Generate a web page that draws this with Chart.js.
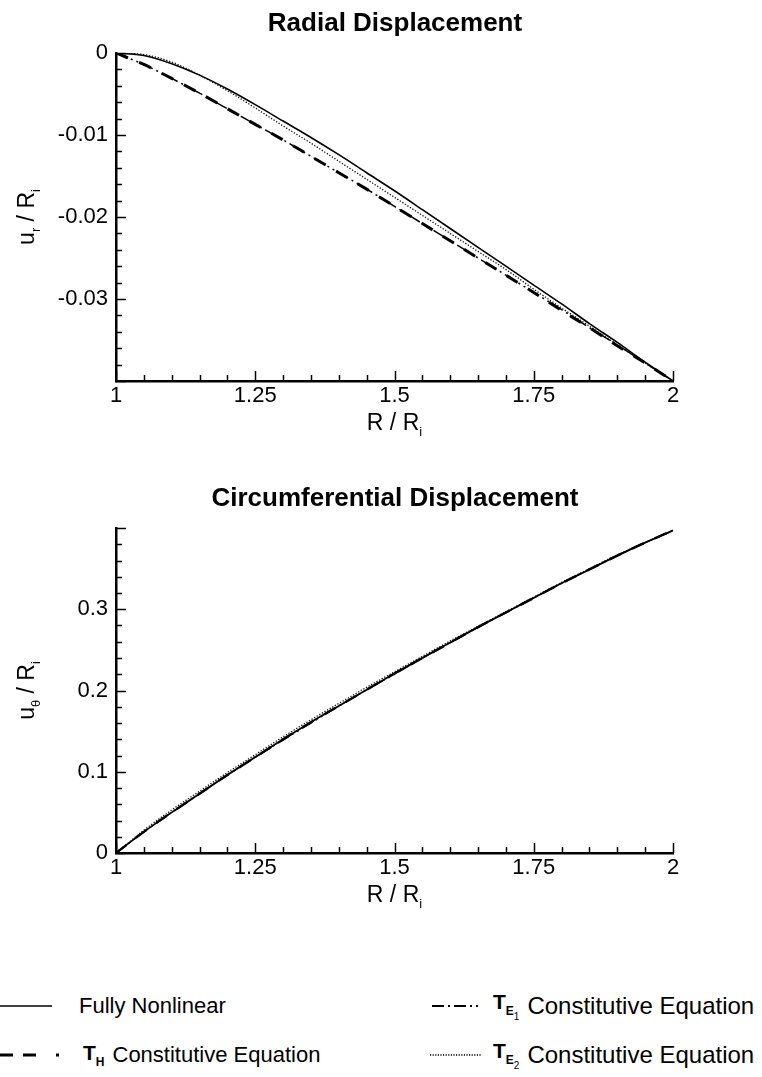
<!DOCTYPE html>
<html>
<head>
<meta charset="utf-8">
<script src="https://cdn.jsdelivr.net/npm/chart.js@4.4.1/dist/chart.umd.min.js"></script>
<style>
  body { margin: 0; background: #fff; }
  #wrap { position: relative; width: 762px; height: 1077px; overflow: hidden;
          font-family: "Liberation Sans", Arial, sans-serif; color: #000; }
  #wrap canvas { position: absolute; left: 0; }
  .ttl { position: absolute; left: 395px; transform: translate(-50%, -50%); white-space: nowrap;
         font-size: 26px; font-weight: bold; }
  .leg { position: absolute; height: 30px; display: flex; align-items: center; white-space: nowrap; font-size: 22px; }
  .leg svg { flex: none; }
  .leg .sym { font-weight: bold; font-size: 21px; margin-right: 8px; }
  .leg .sym sub { font-size: 12px; vertical-align: -6px; }
  .leg .sym sub sub { font-weight: normal; font-size: 10px; vertical-align: -5px; }
</style>
</head>
<body>
<div id="wrap">
  <canvas id="radial" width="762" height="440" style="top:0"></canvas>
  <canvas id="circ" width="762" height="470" style="top:470px"></canvas>
  <div class="ttl" style="top:22px">Radial Displacement</div>
  <div class="ttl" style="top:497px">Circumferential Displacement</div>

  <div class="leg" style="left:0; top:991px">
    <svg width="52" height="10"><line x1="0" y1="5" x2="52" y2="5" stroke="#000" stroke-width="1.5"/></svg>
    <span style="margin-left:27px">Fully Nonlinear</span>
  </div>
  <div class="leg" style="left:0; top:1040px">
    <svg width="72" height="10"><line x1="0" y1="5" x2="72" y2="5" stroke="#000" stroke-width="3" stroke-dasharray="13 10 13 20 3 20"/></svg>
    <span class="sym" style="margin-left:11px">T<sub>H</sub></span><span>Constitutive Equation</span>
  </div>
  <div class="leg" style="left:432px; top:991px; font-size:24px">
    <svg width="50" height="10"><line x1="0" y1="5" x2="50" y2="5" stroke="#000" stroke-width="2" stroke-dasharray="12 4 2 4 12 4 2 4 2 4"/></svg>
    <span class="sym" style="margin-left:11px">T<sub>E<sub>1</sub></sub></span><span>Constitutive Equation</span>
  </div>
  <div class="leg" style="left:430px; top:1040px; font-size:24px">
    <svg width="52" height="10"><line x1="0" y1="5" x2="52" y2="5" stroke="#000" stroke-width="1.3" stroke-dasharray="1.2 1.4"/></svg>
    <span class="sym" style="margin-left:11px">T<sub>E<sub>2</sub></sub></span><span>Constitutive Equation</span>
  </div>
</div>

<script>
// radius ratio R / Ri
const radius = [1.00, 1.05, 1.10, 1.15, 1.20, 1.25, 1.30, 1.35, 1.40, 1.45, 1.50,
                1.55, 1.60, 1.65, 1.70, 1.75, 1.80, 1.85, 1.90, 1.95, 2.00];

// radial displacement ur / Ri
const urFull = [0, -0.0003, -0.0013, -0.0027, -0.0044, -0.0063, -0.0083, -0.0103, -0.0124, -0.0146, -0.0168,
                -0.0191, -0.0214, -0.0237, -0.0260, -0.0283, -0.0306, -0.0330, -0.0353, -0.0377, -0.0400];
const urTH   = [0, -0.0014, -0.0031, -0.0049, -0.0068, -0.0087, -0.0106, -0.0126, -0.0146, -0.0166, -0.0187,
                -0.0208, -0.0229, -0.0250, -0.0271, -0.0292, -0.0314, -0.0335, -0.0357, -0.0378, -0.0400];
const urTE1  = [0, -0.0014, -0.0031, -0.0049, -0.0068, -0.0087, -0.0106, -0.0126, -0.0146, -0.0166, -0.0187,
                -0.0208, -0.0229, -0.0250, -0.0271, -0.0292, -0.0313, -0.0335, -0.0356, -0.0378, -0.0400];
const urTE2  = [0, -0.0002, -0.0011, -0.0027, -0.0046, -0.0067, -0.0089, -0.0110, -0.0132, -0.0154, -0.0176,
                -0.0198, -0.0220, -0.0242, -0.0264, -0.0288, -0.0311, -0.0333, -0.0356, -0.0378, -0.0400];

// circumferential displacement utheta / Ri
const utFull = [0, 0.026, 0.050, 0.073, 0.096, 0.118, 0.140, 0.161, 0.181, 0.201, 0.221,
                0.240, 0.259, 0.278, 0.296, 0.314, 0.332, 0.349, 0.366, 0.382, 0.397];
const utTH   = [0, 0.026, 0.050, 0.073, 0.096, 0.118, 0.140, 0.161, 0.181, 0.201, 0.221,
                0.240, 0.259, 0.278, 0.296, 0.314, 0.332, 0.349, 0.366, 0.382, 0.397];
const utTE1  = [0, 0.026, 0.050, 0.073, 0.096, 0.118, 0.139, 0.160, 0.181, 0.201, 0.220,
                0.240, 0.259, 0.278, 0.296, 0.314, 0.332, 0.349, 0.366, 0.382, 0.397];
const utTE2  = [0, 0.028, 0.053, 0.076, 0.099, 0.121, 0.143, 0.164, 0.184, 0.204, 0.223,
                0.242, 0.261, 0.279, 0.297, 0.315, 0.333, 0.350, 0.367, 0.382, 0.397];

const xTickLabels = ['1', '1.25', '1.5', '1.75', '2'];
const urTickLabels = ['0', '-0.01', '-0.02', '-0.03'];
const utTickLabels = ['0', '0.1', '0.2', '0.3'];

const FONT = '"Liberation Sans", Arial, sans-serif';

function pts(ys) {
    return radius.map((r, i) => ({ x: r, y: ys[i] }));
}

function near(v, step) {
    return Math.abs(v / step - Math.round(v / step)) < 1e-6;
}

// ticks drawn inward from the axis lines, long ones at the major values
const inwardTicks = {
    id: 'inwardTicks',
    afterDraw(chart, args, opts) {
        const ctx = chart.ctx, a = chart.chartArea;
        const xs = chart.scales.x, ys = chart.scales.y;
        ctx.save();
        ctx.strokeStyle = '#000';
        ctx.lineWidth = 1.5;
        xs.ticks.forEach(t => {
            const px = Math.round(xs.getPixelForValue(t.value)) + 0.5;
            const len = near(t.value, opts.xMajor) ? 10 : 6;
            ctx.beginPath(); ctx.moveTo(px, a.bottom); ctx.lineTo(px, a.bottom - len); ctx.stroke();
        });
        ys.ticks.forEach(t => {
            const py = Math.round(ys.getPixelForValue(t.value)) + 0.5;
            const len = near(t.value, opts.yMajor) ? 10 : 6;
            ctx.beginPath(); ctx.moveTo(a.left, py); ctx.lineTo(a.left + len, py); ctx.stroke();
        });
        ctx.restore();
    }
};

// axis titles with subscripts
function drawParts(ctx, parts, cx, cy) {
    const big = '23px ' + FONT, small = '13px ' + FONT;
    let w = 0;
    parts.forEach(p => { ctx.font = p[1] ? small : big; w += ctx.measureText(p[0]).width; });
    let x = cx - w / 2;
    parts.forEach(p => {
        ctx.font = p[1] ? small : big;
        ctx.fillText(p[0], x, cy + (p[1] ? 8 : 0));
        x += ctx.measureText(p[0]).width;
    });
}

const axisTitles = {
    id: 'axisTitles',
    afterDraw(chart, args, opts) {
        const ctx = chart.ctx, a = chart.chartArea;
        ctx.save();
        ctx.fillStyle = '#000';
        ctx.textBaseline = 'middle';
        ctx.textAlign = 'left';
        drawParts(ctx, opts.x, (a.left + a.right) / 2, a.bottom + opts.xOffset);
        ctx.translate(28, (a.top + a.bottom) / 2);
        ctx.rotate(-Math.PI / 2);
        drawParts(ctx, opts.y, 0, 0);
        ctx.restore();
    }
};

function makeChart(id, series, yMin, yMax, yStep, yMajor, yLabels, cfg) {
    const yTicks = yLabels.map(Number);
    new Chart(document.getElementById(id), {
        type: 'line',
        data: {
            datasets: [
                { label: 'TE1', data: pts(series[2]), borderColor: '#000', borderWidth: 1.5,
                  borderDash: [12, 4, 2, 4, 2, 4] },
                { label: 'TH', data: pts(series[1]), borderColor: '#000', borderWidth: cfg.thWidth,
                  borderDash: [13, 12] },
                { label: 'TE2', data: pts(series[3]), borderColor: '#111', borderWidth: 1.3,
                  borderDash: [1.3, 1.7] },
                { label: 'Fully Nonlinear', data: pts(series[0]), borderColor: '#000', borderWidth: cfg.fullWidth }
            ]
        },
        options: {
            responsive: false,
            animation: false,
            devicePixelRatio: 1,
            elements: { point: { radius: 0 }, line: { cubicInterpolationMode: 'monotone' } },
            layout: { padding: { left: 0, right: 89, top: cfg.top, bottom: 0 } },
            plugins: {
                legend: { display: false },
                tooltip: { enabled: false },
                title: { display: false },
                inwardTicks: { xMajor: 0.25, yMajor: yMajor },
                axisTitles: cfg.axisTitles
            },
            scales: {
                x: {
                    type: 'linear', min: 1, max: 2,
                    afterFit: s => { s.height = cfg.xHeight; },
                    grid: { drawOnChartArea: false, drawTicks: false },
                    border: { color: '#000', width: 2.5 },
                    ticks: {
                        stepSize: 0.05, padding: 2, color: '#000', maxRotation: 0, autoSkip: false,
                        font: { family: FONT, size: 22 },
                        callback: v => {
                            const i = xTickLabels.findIndex(l => Math.abs(Number(l) - v) < 1e-6);
                            return i >= 0 ? xTickLabels[i] : '';
                        }
                    }
                },
                y: {
                    type: 'linear', min: yMin, max: yMax,
                    afterFit: s => { s.width = 116; },
                    grid: { drawOnChartArea: false, drawTicks: false },
                    border: { color: '#000', width: 2.5 },
                    ticks: {
                        stepSize: yStep, padding: 8, color: '#000', autoSkip: false,
                        font: { family: FONT, size: 22 },
                        callback: v => {
                            const i = yTicks.findIndex(l => Math.abs(l - v) < 1e-9);
                            return i >= 0 ? yLabels[i] : '';
                        }
                    }
                }
            }
        },
        plugins: [inwardTicks, axisTitles]
    });
}

makeChart('radial', [urFull, urTH, urTE1, urTE2],
    -0.04, 0, 0.002, 0.01, urTickLabels, {
        top: 53, xHeight: 59, thWidth: 3, fullWidth: 1.6,
        axisTitles: {
            x: [['R / R', 0], ['i', 1]], xOffset: 43,
            y: [['u', 0], ['r', 1], [' / R', 0], ['i', 1]]
        }
    });

makeChart('circ', [utFull, utTH, utTE1, utTE2],
    0, 0.4, 0.02, 0.1, utTickLabels, {
        top: 58, xHeight: 87, thWidth: 2.4, fullWidth: 1.8,
        axisTitles: {
            x: [['R / R', 0], ['i', 1]], xOffset: 43,
            y: [['u', 0], ['\u03b8', 1], [' / R', 0], ['i', 1]]
        }
    });
</script>
</body>
</html>
